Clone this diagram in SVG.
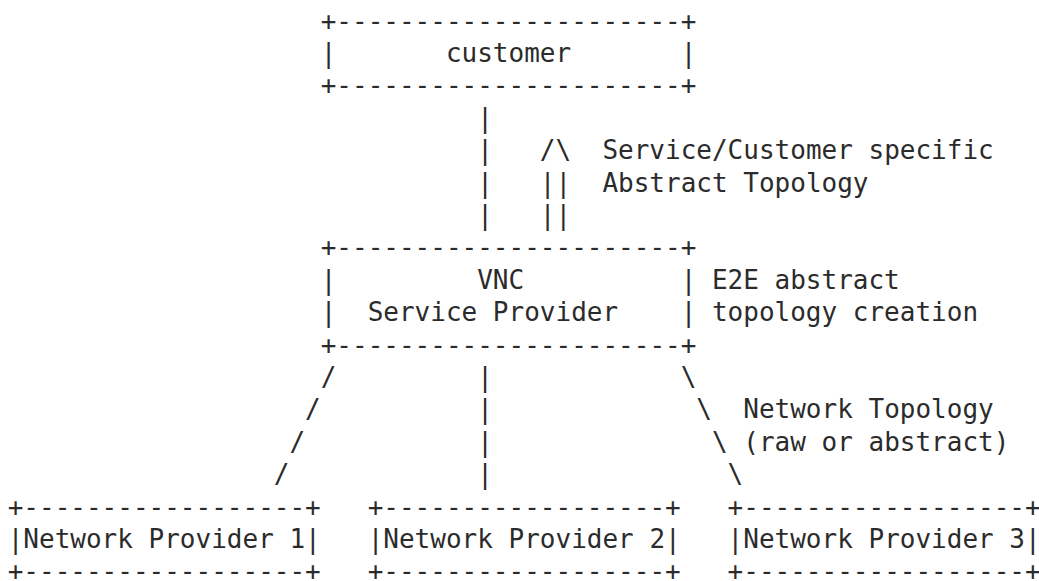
<svg xmlns="http://www.w3.org/2000/svg" width="1039" height="581" viewBox="0 0 1039 581">
<style>
.t{font-family:"DejaVu Sans Mono","Liberation Mono",monospace;font-size:26px;fill:#2b2b2b;white-space:pre;}
</style>
<rect width="1039" height="581" fill="#ffffff"/>
<g id="customer">
<text class="t" xml:space="preserve" x="320.7" y="29.6">+----------------------+</text>
<text class="t" xml:space="preserve" x="320.7" y="62.0">|       customer       |</text>
<text class="t" xml:space="preserve" x="320.7" y="94.4">+----------------------+</text>
</g>
<g id="vnc-service-provider">
<text class="t" xml:space="preserve" x="320.7" y="256.4">+----------------------+</text>
<text class="t" xml:space="preserve" x="320.7" y="288.8">|         VNC          |</text>
<text class="t" xml:space="preserve" x="320.7" y="321.2">|  Service Provider    |</text>
<text class="t" xml:space="preserve" x="320.7" y="353.6">+----------------------+</text>
</g>
<g id="network-provider-1">
<text class="t" xml:space="preserve" x="7.7" y="515.6">+------------------+</text>
<text class="t" xml:space="preserve" x="7.7" y="548.0">|Network Provider 1|</text>
<text class="t" xml:space="preserve" x="7.7" y="580.4">+------------------+</text>
</g>
<g id="network-provider-2">
<text class="t" xml:space="preserve" x="367.65" y="515.6">+------------------+</text>
<text class="t" xml:space="preserve" x="367.65" y="548.0">|Network Provider 2|</text>
<text class="t" xml:space="preserve" x="367.65" y="580.4">+------------------+</text>
</g>
<g id="network-provider-3">
<text class="t" xml:space="preserve" x="727.6" y="515.6">+------------------+</text>
<text class="t" xml:space="preserve" x="727.6" y="548.0">|Network Provider 3|</text>
<text class="t" xml:space="preserve" x="727.6" y="580.4">+------------------+</text>
</g>
<g id="connectors">
<text class="t" x="477.2" y="126.8">|</text>
<text class="t" x="477.2" y="159.2">|</text>
<text class="t" x="477.2" y="191.6">|</text>
<text class="t" x="477.2" y="224.0">|</text>
<text class="t" x="539.8" y="159.2">/\</text>
<text class="t" x="539.8" y="191.6">||</text>
<text class="t" x="539.8" y="224.0">||</text>
<text class="t" x="320.7" y="386.0">/</text>
<text class="t" x="305.05" y="418.4">/</text>
<text class="t" x="289.4" y="450.8">/</text>
<text class="t" x="273.75" y="483.2">/</text>
<text class="t" x="477.2" y="386.0">|</text>
<text class="t" x="477.2" y="418.4">|</text>
<text class="t" x="477.2" y="450.8">|</text>
<text class="t" x="477.2" y="483.2">|</text>
<text class="t" x="680.65" y="386.0">\</text>
<text class="t" x="696.3" y="418.4">\</text>
<text class="t" x="711.95" y="450.8">\</text>
<text class="t" x="727.6" y="483.2">\</text>
</g>
<g id="labels">
<text class="t" x="602.4" y="159.2">Service/Customer specific</text>
<text class="t" x="602.4" y="191.6">Abstract Topology</text>
<text class="t" x="711.95" y="288.8">E2E abstract</text>
<text class="t" x="711.95" y="321.2">topology creation</text>
<text class="t" x="743.25" y="418.4">Network Topology</text>
<text class="t" x="743.25" y="450.8">(raw or abstract)</text>
</g>
</svg>
